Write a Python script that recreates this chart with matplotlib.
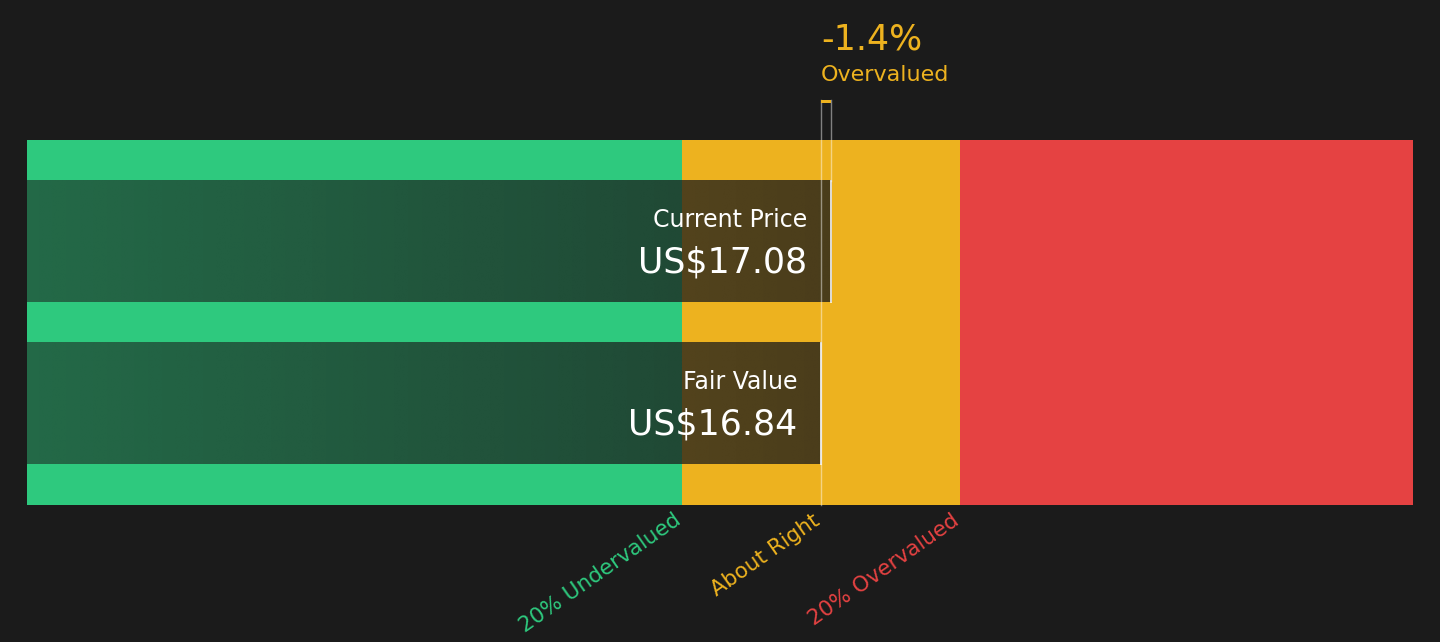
import numpy as np
import matplotlib
matplotlib.use("Agg")
import matplotlib.pyplot as plt
from matplotlib.patches import Rectangle
from matplotlib.transforms import offset_copy

plt.rcParams['font.family'] = ['DejaVu Sans']

# ---- data ----
current_price = 17.08
fair_value = 16.84
pct_label = "-1.4%"
pct_word = "Overvalued"
band_edges = [13.47, 20.21]          # 20% under / 20% over
x_range = [-2.40, 31.18]
band_labels = ["20% Undervalued", "About Right", "20% Overvalued"]

BG = "#1b1b1b"
GREEN = "#2ec97e"
YELLOW = "#edb21f"
RED = "#e54242"

fig = plt.figure(figsize=(14.4, 6.42), dpi=100, facecolor=BG)
ax = fig.add_axes([27/1440, (642-505)/642, 1386/1440, 365/642])
ax.set_facecolor(BG)
ax.set_xlim(*x_range)
ax.set_ylim(0, 1)
ax.axis("off")

x0, x1 = x_range
# bands
ax.add_patch(Rectangle((x0, 0), band_edges[0]-x0, 1, color=GREEN, lw=0))
ax.add_patch(Rectangle((band_edges[0], 0), band_edges[1]-band_edges[0], 1, color=YELLOW, lw=0))
ax.add_patch(Rectangle((band_edges[1], 0), x1-band_edges[1], 1, color=RED, lw=0))

# bars with gradient dark overlay
bars = [(current_price, 0.722, "Current Price"), (fair_value, 0.278, "Fair Value")]
h = 0.332
for val, yc, lab in bars:
    n = 300
    img = np.zeros((1, n, 4))
    img[..., 0:3] = 27/255
    frac_end = (val - x0) / (x1 - x0)
    a = np.linspace(0.55, 0.55 + (0.78-0.55) * frac_end / 0.58, n)
    img[..., 3] = np.clip(a, 0, 0.8)
    ax.imshow(img, extent=(x0, val, yc-h/2, yc+h/2), aspect="auto", interpolation="bilinear", zorder=2)
    ax.plot([val, val], [yc-h/2, yc+h/2], color="white", lw=1.3, alpha=0.9, zorder=3)
    tr = offset_copy(ax.transData, fig=fig, x=-24, y=-2.5, units="dots")
    ax.text(val, yc + 0.065, lab, color="white", fontsize=17, ha="right", va="center",
            zorder=4, transform=tr)
    ax.text(val, yc - 0.05, f"US${val:.2f}", color="white", fontsize=25, ha="right", va="center",
            zorder=4, transform=tr)

# marker between fair value and current price
top = (505-100)/365
cp_top = 0.722 + h/2
ax.plot([fair_value, fair_value], [0, top], color="white", alpha=0.45, lw=1.0, clip_on=False, zorder=3)
ax.plot([current_price, current_price], [cp_top, top], color="white", alpha=0.45, lw=1.0,
        clip_on=False, zorder=3)
ax.add_patch(Rectangle((fair_value, top-0.008), current_price-fair_value, 0.008, color=YELLOW,
                       lw=0, clip_on=False, zorder=4))
ax.text(fair_value, (505-40)/365, pct_label, color=YELLOW, fontsize=25, ha="left", va="center", clip_on=False)
ax.text(fair_value, (505-75)/365, pct_word, color=YELLOW, fontsize=16, ha="left", va="center", clip_on=False)

# bottom labels
ly = -5/365
trb = offset_copy(ax.transData, fig=fig, x=-9, y=0, units="dots")
for xv, lab, col in zip([band_edges[0], fair_value, band_edges[1]], band_labels, [GREEN, YELLOW, RED]):
    ax.text(xv, ly, lab, color=col, fontsize=15.5, rotation=35, ha="right", va="top",
            rotation_mode="anchor", clip_on=False, transform=trb)

fig.savefig("out.png", dpi=100, facecolor=BG)
